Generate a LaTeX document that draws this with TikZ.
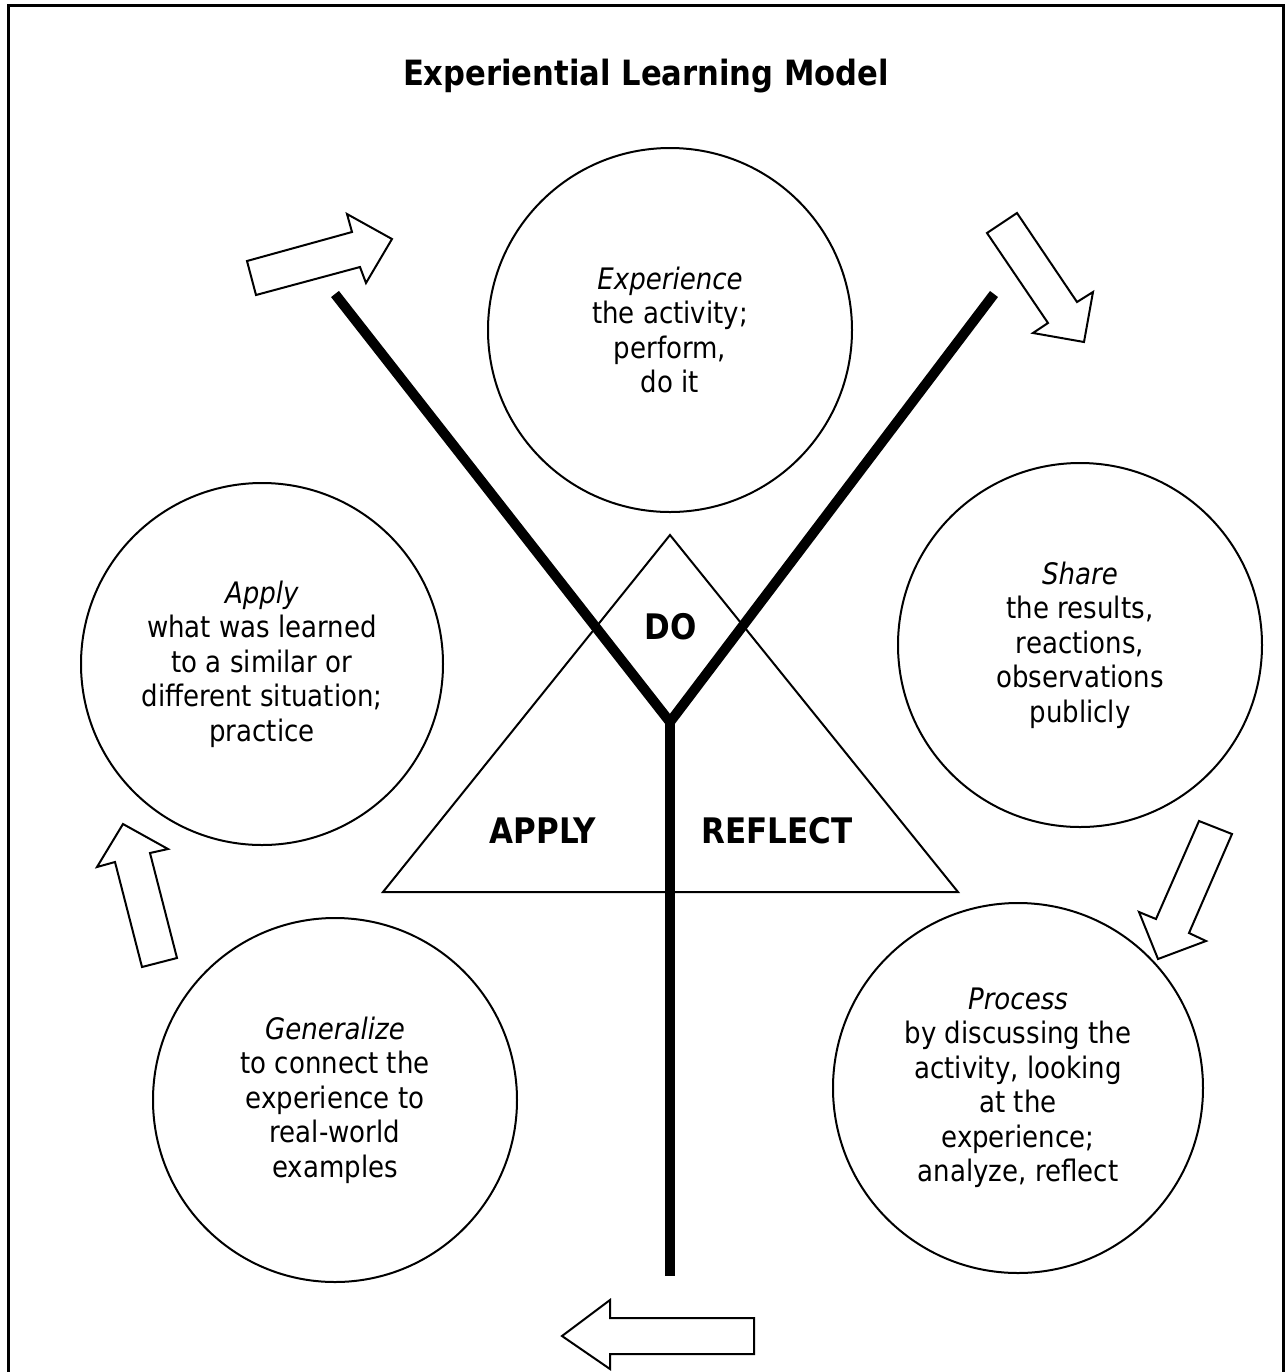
\documentclass[tikz,border=0pt]{standalone}
\usepackage{fontspec}
\setmainfont{DejaVu Sans}[FakeStretch=0.88]
\begin{document}
\begin{tikzpicture}[x=0.5pt,y=-0.5pt]
\tikzset{
  stage/.style={circle,draw,line width=1pt,minimum size=#1,inner sep=0pt,align=center,
    font=\fontsize{14.8}{17.25}\selectfont},
  stage/.default=182pt,
  phase/.style={font=\fontsize{17.6}{20}\selectfont\bfseries},
  fork/.style={line width=5pt},
  blockarrow/.style={draw,line width=1pt,line join=miter,fill=white},
}
\useasboundingbox (0,0) rectangle (1288,1372);
% frame, open at the bottom
\draw[line width=1.5pt] (8,1380) |- (1283,5) -- (1283,1380);
\node[font=\fontsize{17.4}{20}\selectfont\bfseries] (title) at (646,76) {Experiential Learning Model};

% triangle with the three phases
\coordinate (apex) at (670,535);
\coordinate (baseL) at (383,892);
\coordinate (baseR) at (958,892);
\draw[line width=1pt] (apex) -- (baseL) -- (baseR) -- cycle;
\node[phase] (do) at (671,627) {DO};
\node[phase] (apply) at (543,831) {APPLY};
\node[phase] (reflect) at (777,831) {REFLECT};

% the Y
\coordinate (armL) at (335,294);
\coordinate (armR) at (994,294);
\coordinate (fork) at (670,722);
\coordinate (stem) at (670,1276);
\draw[fork] (armL) -- (fork) -- (armR);
\draw[fork] (fork) -- (stem);

% the five stages
\node[stage] (experience) at (670,330) {\textit{Experience}\\the activity;\\perform,\\do it};
\node[stage] (share) at (1080,645) {\textit{Share}\\the results,\\reactions,\\observations\\publicly};
\node[stage=185pt] (process) at (1018,1088) {\textit{Process}\\by discussing the\\activity, looking\\at the\\experience;\\analyze, reflect};
\node[stage] (generalize) at (335,1100) {\textit{Generalize}\\to connect the\\experience to\\real-world\\examples};
\node[stage=181pt] (applyc) at (262,664) {\textit{Apply}\\what was learned\\to a similar or\\different situation;\\practice};

% block arrows round the cycle
\draw[blockarrow] (247,261) -- (352,232) -- (347,214) -- (392,239) -- (366,283) -- (360,267) -- (256,295) -- cycle;
\draw[blockarrow] (987,233) -- (1017,213) -- (1077,302) -- (1093,292) -- (1084,342) -- (1033,333) -- (1048,323) -- cycle;
\draw[blockarrow] (1199,821) -- (1232,834) -- (1189,933) -- (1206,941) -- (1158,959) -- (1139,912) -- (1156,919) -- cycle;
\draw[blockarrow] (754,1318) -- (610,1318) -- (610,1300) -- (562,1336) -- (610,1369) -- (610,1354) -- (754,1354) -- cycle;
\draw[blockarrow] (142,967) -- (177,958) -- (150,853) -- (168,849) -- (123,824) -- (97,867) -- (115,862) -- cycle;
\end{tikzpicture}
\end{document}
